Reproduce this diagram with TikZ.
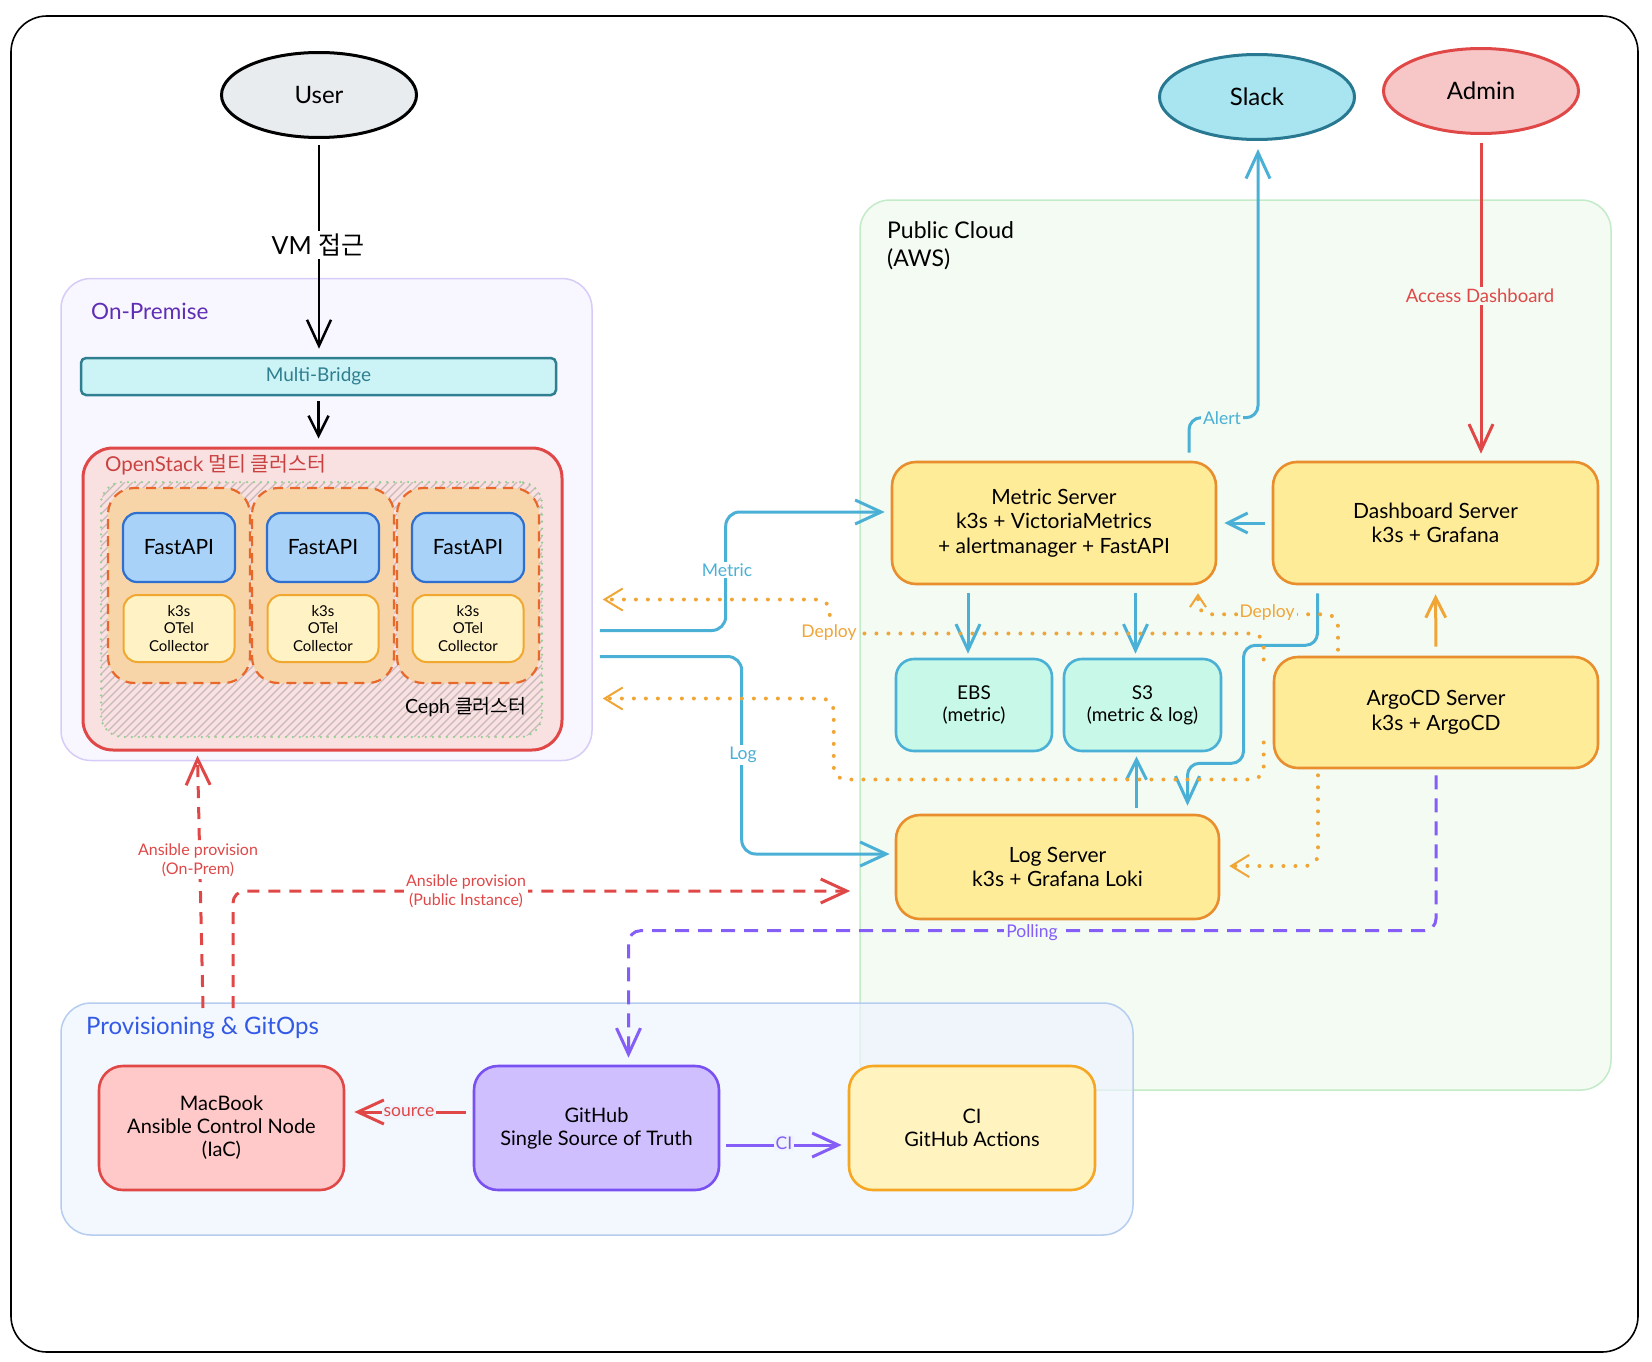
\documentclass[tikz,border=0pt]{standalone}
\usepackage{fontspec}
\setmainfont{Lato}
\newfontfamily\kr{Noto Sans CJK KR}
\usepackage{tikz}
\usetikzlibrary{arrows.meta,positioning,calc,shapes.geometric}
\definecolor{cyanline}{RGB}{74,176,214}
\definecolor{boxorange}{RGB}{232,142,45}
\definecolor{boxyellow}{RGB}{255,236,153}
\definecolor{mint}{RGB}{200,248,232}
\definecolor{deployorange}{RGB}{240,165,55}
\definecolor{redline}{RGB}{224,72,72}
\definecolor{purpleline}{RGB}{132,94,247}
\definecolor{lilac}{RGB}{208,191,255}
\definecolor{lilacline}{RGB}{121,80,242}
\definecolor{rose}{RGB}{255,201,201}
\definecolor{cream}{RGB}{255,243,191}
\definecolor{creamline}{RGB}{245,166,35}
\definecolor{skyfill}{RGB}{168,229,240}
\definecolor{skyline}{RGB}{40,120,145}
\definecolor{admfill}{RGB}{247,198,198}
\definecolor{usrfill}{RGB}{233,236,239}
\definecolor{premfill}{RGB}{248,246,255}
\definecolor{premline}{RGB}{214,204,247}
\definecolor{premtext}{RGB}{95,46,181}
\definecolor{opfill}{RGB}{250,225,225}
\definecolor{opline}{RGB}{224,72,72}
\definecolor{podfill}{RGB}{247,213,168}
\definecolor{podline}{RGB}{232,103,42}
\definecolor{fastfill}{RGB}{168,210,248}
\definecolor{fastline}{RGB}{47,111,207}
\definecolor{otelfill}{RGB}{255,242,196}
\definecolor{otelline}{RGB}{240,168,48}
\definecolor{bridgefill}{RGB}{204,243,246}
\definecolor{bridgeline}{RGB}{47,127,144}
\definecolor{cloudfill}{RGB}{243,251,243}
\definecolor{cloudline}{RGB}{195,235,200}
\definecolor{provfill}{RGB}{238,243,253}
\definecolor{provline}{RGB}{181,205,240}
\definecolor{provtext}{RGB}{50,90,230}
\definecolor{cephline}{RGB}{143,209,143}
\definecolor{hatch}{RGB}{200,185,185}
\newcommand{\setfs}[2]{\fontsize{#1}{#2}\selectfont}

\begin{document}
\begin{tikzpicture}[x=1pt, y=-1pt,
    every node/.style={font=\setfs{21}{24.5}, inner sep=0pt, align=center},
    group/.style={line width=1.5pt, rounded corners=30pt},
    ybox/.style={draw=boxorange, fill=boxyellow, line width=2.6pt, rounded corners=24pt},
    mintbox/.style={draw=cyanline, fill=mint, line width=2.6pt, rounded corners=18pt, font=\setfs{19}{22}},
    lowbox/.style={line width=2.6pt, rounded corners=24pt, minimum height=124pt, font=\setfs{20}{23}},
    pod/.style={draw=podline, fill=podfill, line width=2.2pt, dash pattern=on 10pt off 7pt, rounded corners=26pt},
    fastbox/.style={draw=fastline, fill=fastfill, line width=2.2pt, rounded corners=14pt, font=\setfs{21}{24}},
    otelbox/.style={draw=otelline, fill=otelfill, line width=2pt, rounded corners=14pt, font=\setfs{15}{17.5}},
    actor/.style={ellipse, line width=3pt, minimum width=195pt, minimum height=85pt, font=\setfs{24}{28}},
    lbl/.style={font=\setfs{17.5}{20}, inner sep=2pt},
    flow/.style={line width=3pt, -{Straight Barb[length=26pt,width=24pt]}},
    short/.style={-{Straight Barb[length=20pt,width=20pt]}},
    dotflow/.style={deployorange, line width=4pt, line cap=round, dash pattern=on 0pt off 12pt, rounded corners=12pt,
      -{Straight Barb[length=18pt,width=22pt,line width=2pt]}},
    rflow/.style={flow, redline, dash pattern=on 12pt off 9pt},
    pflow/.style={flow, purpleline, dash pattern=on 14pt off 9pt, rounded corners=12pt}]
    \useasboundingbox (0,0) rectangle (1652,1362);
    % Frame
    \draw[line width=1.6pt, rounded corners=36pt] (11,16) rectangle (1638,1352);
    % On-Premise
    \node[group, draw=premline, fill=premfill, minimum width=531pt, minimum height=482pt] (onprem) at (326.5,519.5) {};
    \node[draw=bridgeline, fill=bridgefill, line width=2.5pt, rounded corners=5pt, minimum width=475pt, minimum height=37pt,
      text=bridgeline, font=\setfs{19}{22}] (bridge) at (318.5,376.5) {Multi-Bridge};
    \node[draw=opline, fill=opfill, line width=3pt, rounded corners=30pt, minimum width=479pt, minimum height=302pt] (opst) at (322.5,599) {};
    % Ceph hatch
    \begin{scope}
      \clip[rounded corners=22pt] (101,482) rectangle (542,737);
      \foreach \i in {-154,-146,...,542} \draw[hatch, line width=1.1pt] (\i,737) -- ++(255,-255);
    \end{scope}
    \node[draw=cephline, line width=2.5pt, line cap=round, dash pattern=on 0pt off 7pt, rounded corners=22pt,
      minimum width=441pt, minimum height=255pt] (ceph) at (321.5,609.5) {};
    \foreach \x/\n in {179/1,323/2,468/3} {
      \node[pod, minimum width=142pt, minimum height=195pt] (pod\n) at (\x,585.5) {};
      \node[fastbox, minimum width=112pt, minimum height=69pt] (fast\n) at (\x,547.5) {FastAPI};
      \node[otelbox, minimum width=111pt, minimum height=67pt] (otel\n) at (\x,628.5) {k3s\\OTel\\Collector};
    }
    % Public Cloud
    \node[group, draw=cloudline, fill=cloudfill, minimum width=751pt, minimum height=890pt] (cloud) at (1235.5,645) {};
    % Provisioning
    \node[group, draw=provline, fill=provfill, fill opacity=0.7, minimum width=1072pt, minimum height=232pt] (prov) at (597,1119) {};
    % Servers
    \node[ybox, minimum width=324pt, minimum height=122pt] (metric) at (1054,523) {Metric Server\\k3s + VictoriaMetrics\\+ alertmanager + FastAPI};
    \node[ybox, minimum width=325pt, minimum height=122pt] (dash) at (1435.5,523) {Dashboard Server\\k3s + Grafana};
    \node[mintbox, minimum width=156pt, minimum height=92pt] (ebs) at (974,705) {EBS\\(metric)};
    \node[mintbox, minimum width=157pt, minimum height=92pt] (s3) at (1142.5,705) {S3\\(metric \& log)};
    \node[ybox, minimum width=324pt, minimum height=111pt] (argo) at (1436,712.5) {ArgoCD Server\\k3s + ArgoCD};
    \node[ybox, minimum width=323pt, minimum height=104pt] (logsrv) at (1057.5,867) {Log Server\\k3s + Grafana Loki};
    % Provisioning boxes
    \node[lowbox, draw=redline, fill=rose, minimum width=245pt] (mac) at (221.5,1128) {MacBook\\Ansible Control Node\\(IaC)};
    \node[lowbox, draw=lilacline, fill=lilac, minimum width=245pt] (github) at (596.5,1128) {GitHub\\Single Source of Truth};
    \node[lowbox, draw=creamline, fill=cream, minimum width=246pt] (ci) at (972,1128) {CI\\GitHub Actions};
    % Actors
    \node[actor, draw=black, fill=usrfill] (user) at (319,95) {User};
    \node[actor, draw=skyline, fill=skyfill] (slack) at (1257,97) {Slack};
    \node[actor, draw=redline, fill=admfill] (admin) at (1481,91) {Admin};
    % Connectors
    \draw[flow, line width=2.5pt, shorten <=6pt, shorten >=8pt] (user.south) -- (user.south |- bridge.north);
    \draw[flow, short, line width=2.5pt, shorten <=5pt, shorten >=8pt] (bridge.south) -- (bridge.south |- opst.north);
    \draw[flow, cyanline, rounded corners=14pt] ($(onprem.east)+(7,111)$) -| ($(metric.west)+(-165,-11)$) -- ($(metric.west)+(-6,-11)$);
    \draw[flow, cyanline, rounded corners=14pt] ($(onprem.east)+(7,137)$) -| ($(logsrv.west)+(-153,-13)$) -- ($(logsrv.west)+(-5,-13)$);
    \draw[flow, cyanline, shorten <=8pt, shorten >=4pt] ($(metric.south -| ebs.north)+(-6,0)$) -- ($(ebs.north)+(-6,0)$);
    \draw[flow, cyanline, shorten <=8pt, shorten >=4pt] ($(metric.south -| s3.north)+(-7,0)$) -- ($(s3.north)+(-7,0)$);
    \draw[flow, short, cyanline, shorten <=6pt, shorten >=4pt] ($(logsrv.north -| s3.south)+(-6,0)$) -- ($(s3.south)+(-6,0)$);
    \draw[flow, short, cyanline, shorten <=7pt, shorten >=7pt] (dash.west) -- (metric.east);
    \draw[flow, cyanline, rounded corners=12pt] ($(dash.south)+(-118,8)$) -- ++(0,52) -- ++(-74,0) -- ++(0,118) -- ++(-56,0) -- ($(logsrv.north)+(130,-8)$);
    \draw[flow, cyanline, rounded corners=12pt] ($(metric.north)+(135,-8)$) -- ++(0,-35) -| ($(slack.south)+(1,8)$);
    \draw[flow, redline, shorten <=8pt, shorten >=7pt] (admin.south) -- (admin.south |- dash.north);
    \draw[flow, short, deployorange, shorten <=9pt, shorten >=9pt] (argo.north) -- (dash.south);
    % Deploy
    \draw[dotflow, -{Straight Barb[length=12pt,width=16pt,line width=2pt]}] ($(argo.north)+(-98,-6)$) |- ($(metric.south)+(144,29)$) -- ($(metric.south)+(144,8)$);
    \draw[dotflow] ($(argo.west)+(-9,-53)$) |- ($(onprem.east)+(237,114)$) |- ($(onprem.east)+(10,80)$);
    \draw[dotflow] ($(argo.west)+(-9,30)$) |- ($(onprem.east)+(241,260)$) |- ($(onprem.east)+(10,179)$);
    \draw[dotflow] ($(argo.south)+(-118,6)$) |- ($(logsrv.east)+(9,-1)$);
    % Polling
    \draw[pflow] ($(argo.south)+(0,6)$) |- ($(github.north)+(32,-134)$) -- ($(github.north)+(32,-7)$);
    % Ansible
    \coordinate (ansA) at (203,1008);
    \coordinate (ansB) at (233,1008);
    \draw[rflow] (ansA) -- ($(opst.south)+(-125,4)$);
    \draw[rflow, rounded corners=12pt] (ansB) |- ($(cloud.west)+(-9,246)$);
    % GitOps
    \draw[flow, redline] ($(github.west)+(-7,-16)$) -- ($(mac.east)+(9,-16)$);
    \draw[flow, purpleline] ($(github.east)+(6,17)$) -- ($(ci.west)+(-6,17)$);
    % Labels
    \node[font=\setfs{25}{29}, fill=white, inner sep=3pt] (vmlbl) at (318,245) {VM {\kr 접근}};
    \node[anchor=west, text=premtext, font=\setfs{22.5}{26}] (onpremlbl) at (91,311) {On-Premise};
    \node[anchor=west, text=opline!90!black, font=\setfs{20.5}{24}] (opstlbl) at (105,465) {OpenStack {\kr 멀티 클러스터}};
    \node[anchor=east, font=\setfs{19.5}{23}] (cephlbl) at (527,707) {Ceph {\kr 클러스터}};
    \node[anchor=west, align=left, font=\setfs{23}{28}] (cloudlbl) at (887,246) {Public Cloud\\(AWS)};
    \node[anchor=west, text=provtext, font=\setfs{24}{28}] (provlbl) at (86,1028) {Provisioning \& GitOps};
    \node[lbl, text=cyanline, fill=white] (metriclbl) at (727,570) {Metric};
    \node[lbl, text=cyanline, fill=white] (loglbl) at (743,755) {Log};
    \node[lbl, text=cyanline, fill=cloudfill] (alertlbl) at (1222,418) {Alert};
    \node[lbl, text=redline, fill=cloudfill, font=\setfs{18.5}{21}] (accesslbl) at (1480,296) {Access Dashboard};
    \node[lbl, text=deployorange, fill=white] (deploylbl) at (829,633) {Deploy};
    \node[lbl, text=deployorange, fill=cloudfill] (deploylblb) at (1267,613) {Deploy};
    \node[lbl, text=purpleline, fill=cloudfill] (polllbl) at (1032,933) {Polling};
    \node[lbl, text=redline, fill=white, font=\setfs{16}{19}] (anslbl) at (198,860) {Ansible provision\\(On-Prem)};
    \node[lbl, text=redline, fill=white, font=\setfs{16}{19}] (anslblb) at (466,891) {Ansible provision\\(Public Instance)};
    \node[lbl, text=redline, fill=provfill] (srclbl) at (409,1112) {source};
    \node[lbl, text=purpleline, fill=provfill] (cilbl) at (784,1143) {CI};
\end{tikzpicture}
\end{document}
